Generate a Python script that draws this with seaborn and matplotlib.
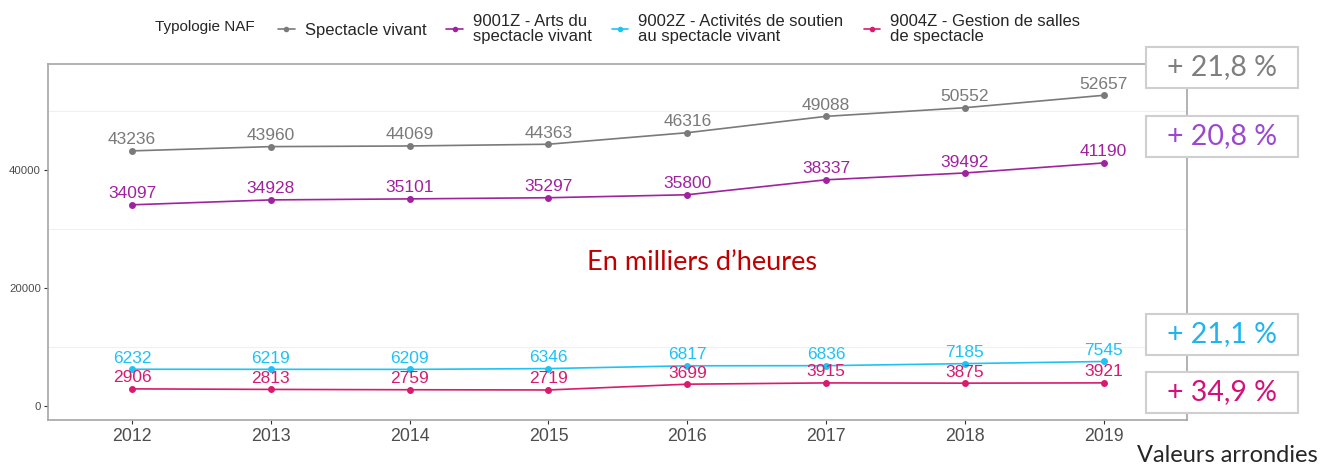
import pandas as pd
import seaborn as sns
import matplotlib.pyplot as plt
from matplotlib.patches import Rectangle

# values (milliers d'heures)
years = [2012, 2013, 2014, 2015, 2016, 2017, 2018, 2019]
spectacle_vivant = [43236, 43960, 44069, 44363, 46316, 49088, 50552, 52657]
arts_spectacle = [34097, 34928, 35101, 35297, 35800, 38337, 39492, 41190]
soutien_spectacle = [6232, 6219, 6209, 6346, 6817, 6836, 7185, 7545]
salles_spectacle = [2906, 2813, 2759, 2719, 3699, 3915, 3875, 3921]

series_names = ['Spectacle vivant',
                '9001Z - Arts du\nspectacle vivant',
                '9002Z - Activités de soutien\nau spectacle vivant',
                '9004Z - Gestion de salles\nde spectacle']
series_values = [spectacle_vivant, arts_spectacle, soutien_spectacle, salles_spectacle]
line_colors = ['#7a7a7a', '#a0229f', '#1ec3f5', '#d81b6e']
pct_labels = ['+ 21,8 %', '+ 20,8 %', '+ 21,1 %', '+ 34,9 %']
pct_colors = ['#7f7f7f', '#9a48d0', '#1fb4ee', '#d4117a']

rows = []
for name, vals in zip(series_names, series_values):
    for y, v in zip(years, vals):
        rows.append({'annee': y, 'heures': v, 'typologie': name})
df = pd.DataFrame(rows)

sns.set_theme(style='white')
plt.rcParams['font.family'] = ['Liberation Sans', 'DejaVu Sans']

fig = plt.figure(figsize=(13.2, 4.67), dpi=100)
ax = fig.add_axes([48 / 1320, 47 / 467, (1187 - 48) / 1320, (420 - 64) / 467])

palette = dict(zip(series_names, line_colors))
sns.lineplot(data=df, x='annee', y='heures', hue='typologie', palette=palette,
             marker='o', markersize=5, markeredgewidth=0, linewidth=1.2, ax=ax)

# value labels above each point
for name, vals, col in zip(series_names, series_values, line_colors):
    for y, v in zip(years, vals):
        ax.annotate(str(v), (y, v), xytext=(0, 2.5), textcoords='offset points',
                    ha='center', va='bottom', fontsize=12.5, color=col)

ax.set_xlim(2011.395, 2019.6)
ax.set_ylim(-2370, 57960)
ax.set_xticks(years)
ax.set_xticklabels([str(y) for y in years], fontsize=12.8, color='#4d4d4d')
ax.set_yticks([0, 20000, 40000])
ax.set_yticklabels(['0', '20000', '40000'], fontsize=8.2, color='#4d4d4d')
ax.tick_params(axis='both', length=3, width=0.8, color='#333333', bottom=True, left=True, pad=2)
ax.tick_params(axis='x', pad=3)
ax.set_xlabel('')
ax.set_ylabel('')
for yg in [10000, 30000, 50000]:
    ax.axhline(yg, color='#f0f0f0', linewidth=0.8, zorder=0)
for sp in ax.spines.values():
    sp.set_color('#a6a6a6')
    sp.set_linewidth(1.2)

# legend on top, title to the left
handles, labels = ax.get_legend_handles_labels()
ax.legend_.remove()
leg = fig.legend(handles, labels, loc='center left', bbox_to_anchor=(278 / 1320, 1 - 29 / 467),
                 ncol=4, frameon=False, fontsize=12, handlelength=1.0, handletextpad=0.6,
                 columnspacing=1.2, borderaxespad=0, borderpad=0, markerscale=0.8)
for t in leg.get_texts():
    t.set_linespacing(1.0)
fig.text(155 / 1320, 1 - 27 / 467, 'Typologie NAF', fontsize=11, va='center', ha='left')

ax.text((702 - 48) / 1139, (420 - 262) / 356, 'En milliers d\u2019heures', transform=ax.transAxes,
        fontsize=19.5, color='#c00000', ha='center', va='center', family=['Lato', 'DejaVu Sans'])

# boxes with growth percentages
box_centers = [67.5, 136.5, 334.5, 392.5]
for lab, col, cy in zip(pct_labels, pct_colors, box_centers):
    rect = Rectangle((1146 / 1320, 1 - (cy + 20.5) / 467), 152 / 1320, 41 / 467,
                     transform=fig.transFigure, facecolor='white', edgecolor='#cfcfcf',
                     linewidth=1.5, zorder=5)
    fig.patches.append(rect)
    fig.text(1222 / 1320, 1 - cy / 467, lab, fontsize=20.5, color=col, ha='center', va='center',
             family=['Lato', 'DejaVu Sans'], zorder=6)

fig.text(1318 / 1320, 1 - 455 / 467, 'Valeurs arrondies', fontsize=17, ha='right', va='center',
         family=['Lato', 'DejaVu Sans'])

fig.savefig('out.png', dpi=100)
